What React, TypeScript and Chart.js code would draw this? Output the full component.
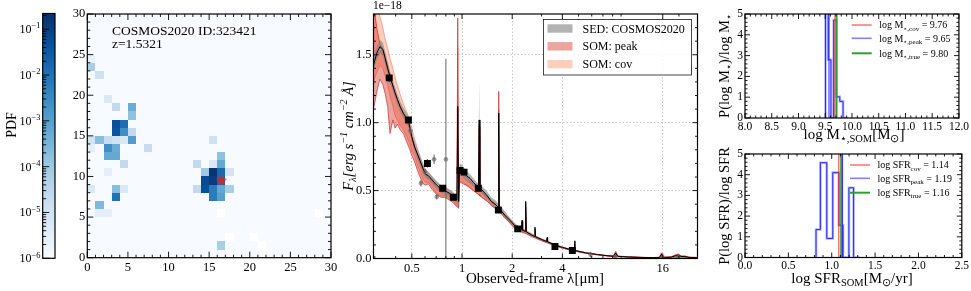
import React, { useEffect, useRef } from "react";
import { Chart, registerables } from "chart.js";

Chart.register(...registerables);

const W = 971;
const H = 291;
const SERIF = '"Liberation Serif", "Times New Roman", Times, serif';

// ---------------- PDF colour bar ----------------
const PDF_MIN = 1e-6;
const PDF_MAX = 0.22;
const PDF_MAJOR = [1e-6, 1e-5, 1e-4, 1e-3, 1e-2, 1e-1];
const PDF_EXP = ["−6", "−5", "−4", "−3", "−2", "−1"];
const PDF_MANTISSA = [2, 3, 4, 5, 6, 7, 8, 9];

// ---------------- SOM map ----------------
const SOM_N = 30;
const SOM_TICKS = [0, 5, 10, 15, 20, 25, 30];
// [column, row, log10 PDF]
const SOM_CELLS = [
  [0, 24, -5.6], [0, 23, -4.2], [1, 22, -4.9], [2, 19, -5.2],
  [3, 18, -4.6], [5, 18, -3.3], [5, 17, -3.8],
  [3, 16, -1.3], [4, 16, -1.9],
  [3, 15, -1.4], [4, 15, -2.6], [5, 15, -4.6],
  [0, 14, -5.0], [1, 14, -3.7], [2, 14, -4.7], [3, 14, -5.0], [4, 14, -5.2], [5, 14, -2.9], [15, 14, -4.9],
  [0, 13, -5.5], [2, 13, -2.6], [3, 13, -3.3], [7, 13, -4.7],
  [2, 12, -3.2], [3, 12, -3.2], [16, 12, -3.8],
  [4, 11, -4.6], [13, 11, -4.6], [15, 11, -5.2], [16, 11, -3.2],
  [2, 10, -5.5], [14, 10, -4.0], [15, 10, -0.75], [16, 10, -1.8], [17, 10, -5.0],
  [14, 9, -1.2], [15, 9, -0.9], [16, 9, -1.8],
  [0, 8, -5.2], [3, 8, -3.7], [4, 8, -5.2], [13, 8, -4.6], [14, 8, -1.3], [15, 8, -2.2], [16, 8, -3.2], [17, 8, -4.2],
  [3, 7, -2.0], [15, 7, -2.2], [16, 7, -3.0],
  [1, 6, -3.6],
  [1, 5, -5.5], [2, 5, -5.5],
  [16, 1, -4.2],
];
const SOM_EMPTY = [[16, 5], [17, 2], [20, 2], [21, 1], [28, 5]];
const SOM_BEST = { x: 16.5, y: 9.5 };
const SOM_ID = "COSMOS2020 ID:323421";
const SOM_Z = "z=1.5321";

// ---------------- SED ----------------
const SED_XMIN = 0.2945;
const SED_XMAX = 25.85;
const SED_YMAX = 1.8;
const SED_X_MAJOR = [0.5, 1, 2, 4, 16];
const SED_X_MINOR = [0.3, 0.4, 0.6, 0.7, 0.8, 0.9, 3, 5, 6, 7, 8, 9, 20];
const SED_Y_MAJOR = [0, 0.5, 1.0, 1.5];
const SED_Y_MINOR = [0.1, 0.2, 0.3, 0.4, 0.6, 0.7, 0.8, 0.9, 1.1, 1.2, 1.3, 1.4, 1.6, 1.7];
const SED_LAM = [
  0.294, 0.300, 0.310, 0.322, 0.335, 0.345, 0.358, 0.370, 0.385, 0.397, 0.410, 0.425, 0.445, 0.465, 0.480,
  0.499, 0.520, 0.540, 0.560, 0.585, 0.605, 0.628, 0.660, 0.705, 0.750, 0.790, 0.840, 0.887, 0.915, 0.932,
  0.943, 0.954, 0.966, 0.985, 1.010, 1.060, 1.117, 1.170, 1.230, 1.255, 1.267, 1.280, 1.350, 1.420, 1.500,
  1.580, 1.645, 1.660, 1.675, 1.800, 1.940, 2.080,
  2.200, 2.270, 2.290, 2.310, 2.390, 2.410, 2.430, 2.600, 2.720, 2.740, 2.760, 3.000, 3.220, 3.240, 3.260,
  3.600, 4.000, 4.400, 4.720, 4.740, 4.760, 5.500, 6.500, 7.500, 8.100, 8.350, 8.600, 10.00, 12.00, 14.00,
  15.30, 15.70, 16.10, 18.00, 19.00, 19.80, 20.60, 21.80, 23.00, 25.90,
];
const SED_BEST = [
  1.42, 1.46, 1.52, 1.56, 1.54, 1.48, 1.40, 1.34, 1.27, 1.22, 1.17, 1.12, 1.07, 1.03, 1.00,
  0.90, 0.82, 0.77, 0.72, 0.66, 0.62, 0.61, 0.58, 0.54, 0.51, 0.50, 0.48, 0.46, 0.44, 0.43,
  1.12, 0.42, 0.66, 0.66, 0.64, 0.61, 0.59, 0.56, 0.53, 0.52, 1.02, 0.52, 0.49, 0.46, 0.42,
  0.40, 0.38, 1.07, 0.37, 0.32, 0.28, 0.24,
  0.220, 0.212, 0.280, 0.208, 0.200, 0.420, 0.196, 0.175, 0.163, 0.230, 0.160, 0.140, 0.125, 0.155, 0.123,
  0.100, 0.082, 0.068, 0.060, 0.130, 0.059, 0.042, 0.029, 0.020, 0.017, 0.040, 0.016, 0.011, 0.008, 0.006,
  0.008, 0.030, 0.008, 0.010, 0.020, 0.025, 0.015, 0.014, 0.008, 0.006,
];
const SED_GRAY_LO = [
  1.37, 1.41, 1.47, 1.51, 1.49, 1.43, 1.35, 1.29, 1.23, 1.18, 1.13, 1.08, 1.03, 0.99, 0.96,
  0.86, 0.78, 0.73, 0.68, 0.62, 0.59, 0.58, 0.55, 0.51, 0.48, 0.47, 0.45, 0.43, 0.41, 0.40,
  0.40, 0.39, 0.62, 0.62, 0.60, 0.57, 0.55, 0.53, 0.50, 0.49, 0.49, 0.49, 0.46, 0.43, 0.40,
  0.38, 0.36, 0.36, 0.35, 0.30, 0.26, 0.22,
  0.205, 0.200, 0.200, 0.197, 0.190, 0.190, 0.186, 0.165, 0.155, 0.155, 0.152, 0.132, 0.118, 0.118, 0.116,
  0.094, 0.077, 0.064, 0.056, 0.056, 0.055, 0.039, 0.027, 0.018, 0.015, 0.015, 0.014, 0.010, 0.007, 0.005,
  0.006, 0.006, 0.006, 0.008, 0.010, 0.012, 0.010, 0.009, 0.006, 0.004,
];
const SED_GRAY_HI = [
  1.48, 1.52, 1.57, 1.61, 1.59, 1.53, 1.45, 1.38, 1.31, 1.26, 1.21, 1.16, 1.11, 1.07, 1.04,
  0.94, 0.86, 0.81, 0.76, 0.69, 0.65, 0.64, 0.61, 0.57, 0.54, 0.53, 0.51, 0.49, 0.47, 0.46,
  1.50, 0.45, 0.70, 0.70, 0.68, 0.65, 0.62, 0.59, 0.56, 0.55, 1.31, 0.55, 0.52, 0.49, 0.45,
  0.43, 0.41, 1.23, 0.40, 0.35, 0.30, 0.26,
  0.235, 0.225, 0.290, 0.222, 0.215, 0.430, 0.210, 0.188, 0.175, 0.235, 0.172, 0.150, 0.134, 0.160, 0.132,
  0.108, 0.089, 0.074, 0.065, 0.135, 0.064, 0.046, 0.032, 0.023, 0.020, 0.045, 0.019, 0.014, 0.010, 0.008,
  0.010, 0.035, 0.010, 0.013, 0.024, 0.030, 0.018, 0.017, 0.010, 0.008,
];
const SOM_PEAK_LO = [
  1.10, 1.15, 1.24, 1.32, 1.28, 1.22, 1.12, 0.92, 1.02, 0.96, 0.99, 0.95, 0.92, 0.86, 0.82,
  0.76, 0.71, 0.65, 0.60, 0.55, 0.54, 0.55, 0.51, 0.47, 0.45, 0.45, 0.43, 0.41, 0.39, 0.38,
  0.38, 0.37, 0.55, 0.56, 0.55, 0.54, 0.52, 0.50, 0.48, 0.47, 0.47, 0.46, 0.44, 0.42, 0.39,
  0.37, 0.36, 0.36, 0.35, 0.30, 0.26, 0.22,
  0.200, 0.195, 0.195, 0.192, 0.185, 0.185, 0.182, 0.162, 0.152, 0.152, 0.150, 0.130, 0.116, 0.116, 0.114,
  0.093, 0.076, 0.063, 0.055, 0.055, 0.054, 0.038, 0.026, 0.018, 0.015, 0.015, 0.014, 0.010, 0.007, 0.005,
  0.006, 0.006, 0.006, 0.008, 0.010, 0.012, 0.010, 0.009, 0.006, 0.004,
];
const SOM_PEAK_HI = [
  1.82, 1.80, 1.68, 1.58, 1.54, 1.49, 1.42, 1.34, 1.27, 1.21, 1.16, 1.12, 1.06, 1.01, 0.98,
  0.89, 0.82, 0.76, 0.71, 0.65, 0.62, 0.60, 0.57, 0.53, 0.50, 0.49, 0.48, 0.46, 0.44, 0.43,
  1.77, 0.42, 0.62, 0.63, 0.62, 0.60, 0.57, 0.55, 0.52, 0.51, 0.97, 0.51, 0.48, 0.45, 0.42,
  0.40, 0.38, 1.23, 0.37, 0.32, 0.28, 0.24,
  0.220, 0.212, 0.270, 0.208, 0.200, 0.380, 0.196, 0.175, 0.163, 0.215, 0.160, 0.140, 0.125, 0.150, 0.123,
  0.100, 0.082, 0.068, 0.060, 0.120, 0.059, 0.042, 0.029, 0.020, 0.018, 0.050, 0.017, 0.012, 0.008, 0.006,
  0.009, 0.040, 0.009, 0.012, 0.025, 0.032, 0.018, 0.018, 0.010, 0.007,
];
const SOM_COV_LO = [
  1.30, 1.33, 1.38, 1.42, 1.40, 1.35, 1.28, 1.20, 1.12, 1.05, 1.02, 0.98, 0.95, 0.90, 0.86,
  0.80, 0.75, 0.69, 0.64, 0.58, 0.56, 0.56, 0.53, 0.48, 0.46, 0.46, 0.44, 0.42, 0.40, 0.39,
  0.39, 0.38, 0.56, 0.57, 0.56, 0.54, 0.52, 0.50, 0.48, 0.47, 0.47, 0.47, 0.44, 0.42, 0.39,
  0.37, 0.36, 0.36, 0.35, 0.30, 0.26, 0.22,
  0.205, 0.198, 0.198, 0.195, 0.188, 0.188, 0.185, 0.165, 0.154, 0.154, 0.152, 0.132, 0.118, 0.118, 0.116,
  0.094, 0.077, 0.064, 0.056, 0.056, 0.055, 0.039, 0.027, 0.018, 0.015, 0.015, 0.014, 0.010, 0.007, 0.005,
  0.006, 0.006, 0.006, 0.008, 0.010, 0.012, 0.010, 0.009, 0.006, 0.004,
];
const SOM_COV_HI = [
  1.85, 1.85, 1.85, 1.78, 1.70, 1.62, 1.55, 1.47, 1.40, 1.33, 1.27, 1.21, 1.14, 1.08, 1.04,
  0.96, 0.88, 0.81, 0.75, 0.69, 0.65, 0.63, 0.60, 0.56, 0.53, 0.52, 0.50, 0.47, 0.45, 0.44,
  1.55, 0.43, 0.64, 0.65, 0.63, 0.61, 0.59, 0.56, 0.54, 0.53, 0.90, 0.52, 0.49, 0.46, 0.43,
  0.41, 0.39, 1.10, 0.38, 0.33, 0.29, 0.25,
  0.225, 0.215, 0.250, 0.212, 0.205, 0.330, 0.200, 0.178, 0.166, 0.200, 0.163, 0.143, 0.128, 0.140, 0.126,
  0.102, 0.084, 0.070, 0.062, 0.100, 0.061, 0.044, 0.031, 0.022, 0.020, 0.055, 0.019, 0.013, 0.009, 0.007,
  0.010, 0.042, 0.010, 0.013, 0.027, 0.034, 0.020, 0.019, 0.011, 0.008,
];
// COSMOS2020 photometry (black squares) and other bands (grey)
const PHOT_LAM = [0.366, 0.477, 0.620, 0.766, 0.887, 0.973, 1.028, 1.253, 1.652, 2.157, 3.61, 4.59];
const PHOT_F = [1.33, 1.02, 0.70, 0.517, 0.451, 0.648, 0.636, 0.517, 0.356, 0.218, 0.089, 0.059];
const PHOT_ERR = [0.03, 0.02, 0.03, 0.012, 0.01, 0.012, 0.012, 0.01, 0.01, 0.006, 0.004, 0.004];
const XPHOT_LAM = [0.490, 0.567, 0.600, 0.680, 0.705, 0.800, 5.9, 8.3, 16.0, 19.8];
const XPHOT_F = [0.94, 0.555, 0.64, 0.73, 0.455, 0.73, 0.03, 0.012, 0.008, 0.015];
const XPHOT_ERR = [0.03, 0.025, 0.02, 0.035, 0.02, 0.74, 0.02, 0.015, 0.008, 0.012];

// ---------------- stellar mass / SFR PDFs ----------------
const MASS_XMIN = 8.0, MASS_XMAX = 12.0;
const MASS_X_MAJOR = [8.0, 8.5, 9.0, 9.5, 10.0, 10.5, 11.0, 11.5, 12.0];
const PDF_Y_MAJOR = [0, 1, 2, 3, 4, 5];
const MASS_EDGES = [9.505, 9.556, 9.607, 9.658, 9.709, 9.772, 9.833, 9.914];
const MASS_DENS = [3.08, 5.5, 2.8, 0, 4.71, 1.02, 0.8];
// positions of the vertical markers as drawn, and the values quoted in the legend
const MASS_LINE_COV = 9.683, MASS_LINE_PEAK = 9.57, MASS_LINE_TRUE = 9.713;
const MASS_COV = "9.76", MASS_PEAK = "9.65", MASS_TRUE = "9.80";

const SFR_XMIN = 0.0, SFR_XMAX = 2.5;
const SFR_X_MAJOR = [0.0, 0.5, 1.0, 1.5, 2.0, 2.5];
const SFR_EDGES = [0.819, 0.869, 0.943, 1.012, 1.082, 1.130, 1.198, 1.252, 1.321];
const SFR_DENS = [0.06, 1.35, 4.58, 0.92, 4.1, 1.56, 0, 3.37];
const SFR_LINE_COV = 1.082, SFR_LINE_PEAK = 1.125, SFR_LINE_TRUE = 1.108;
const SFR_COV = "1.14", SFR_PEAK = "1.19", SFR_TRUE = "1.16";

// ---------------- helpers ----------------
const BLUES = ["#f7fbff", "#deebf7", "#c6dbef", "#9ecae1", "#6baed6", "#4292c6", "#2171b5", "#08519c", "#08306b"];
function hexRgb(h: string) {
  return [parseInt(h.slice(1, 3), 16), parseInt(h.slice(3, 5), 16), parseInt(h.slice(5, 7), 16)];
}
function blues(t: number) {
  const tt = Math.max(0, Math.min(1, t));
  const p = tt * (BLUES.length - 1);
  const i = Math.min(BLUES.length - 2, Math.floor(p));
  const f = p - i;
  const a = hexRgb(BLUES[i]);
  const b = hexRgb(BLUES[i + 1]);
  return `rgb(${Math.round(a[0] + (b[0] - a[0]) * f)},${Math.round(a[1] + (b[1] - a[1]) * f)},${Math.round(a[2] + (b[2] - a[2]) * f)})`;
}
const LOG_LO = Math.log10(PDF_MIN);
const LOG_HI = Math.log10(PDF_MAX);
const normLog = (lv: number) => (lv - LOG_LO) / (LOG_HI - LOG_LO);

function range(a: number, b: number, step: number, skip: number[]) {
  const out: number[] = [];
  const n = Math.round((b - a) / step);
  for (let k = 0; k <= n; k++) {
    const v = +(a + k * step).toFixed(6);
    if (!skip.some((s) => Math.abs(s - v) < 1e-9)) out.push(v);
  }
  return out;
}

type Seg = { t: string; sub?: boolean; sup?: boolean };
type TextItem = {
  x: number; y: number; segs: Seg[]; size: number;
  align?: "left" | "center" | "right"; rot?: number; italic?: boolean; color?: string;
};
function fontStr(size: number, italic?: boolean) {
  return `${italic ? "italic " : ""}${size}px ${SERIF}`;
}
function drawRich(ctx: CanvasRenderingContext2D, it: TextItem) {
  const small = it.size * 0.7;
  ctx.save();
  ctx.translate(it.x, it.y);
  if (it.rot) ctx.rotate(it.rot);
  ctx.fillStyle = it.color || "#000";
  ctx.textBaseline = "alphabetic";
  ctx.textAlign = "left";
  const widths = it.segs.map((s) => {
    ctx.font = fontStr(s.sub || s.sup ? small : it.size, it.italic);
    return ctx.measureText(s.t).width;
  });
  const total = widths.reduce((a, b) => a + b, 0);
  let x = it.align === "center" ? -total / 2 : it.align === "right" ? -total : 0;
  it.segs.forEach((s, k) => {
    ctx.font = fontStr(s.sub || s.sup ? small : it.size, it.italic);
    const dy = s.sub ? it.size * 0.22 : s.sup ? -it.size * 0.4 : 0;
    ctx.fillText(s.t, x, dy);
    x += widths[k];
  });
  ctx.restore();
}
function textPlugin(items: TextItem[], extra?: (ctx: CanvasRenderingContext2D, chart: any) => void) {
  return {
    id: "texts",
    afterDraw(chart: any) {
      const ctx = chart.ctx;
      if (extra) extra(ctx, chart);
      items.forEach((it) => drawRich(ctx, it));
    },
  };
}

type TickCfg = {
  xMajor?: number[]; xMinor?: number[]; yMajor?: number[]; yMinor?: number[];
  major: number; minor: number; top?: boolean; right?: boolean; frame?: number;
};
function frameTicks(cfg: TickCfg) {
  return {
    id: "frameTicks",
    afterDatasetsDraw(chart: any) {
      const { ctx, chartArea: a } = chart;
      const xs = chart.scales.x;
      const ys = chart.scales.y;
      ctx.save();
      ctx.strokeStyle = "#000";
      ctx.lineWidth = 0.9;
      const seg = (x0: number, y0: number, x1: number, y1: number) => {
        ctx.beginPath();
        ctx.moveTo(x0, y0);
        ctx.lineTo(x1, y1);
        ctx.stroke();
      };
      const doX = (vals: number[] | undefined, len: number) =>
        (vals || []).forEach((v) => {
          const px = xs.getPixelForValue(v);
          if (px < a.left - 0.5 || px > a.right + 0.5) return;
          seg(px, a.bottom, px, a.bottom - len);
          if (cfg.top !== false) seg(px, a.top, px, a.top + len);
        });
      const doY = (vals: number[] | undefined, len: number) =>
        (vals || []).forEach((v) => {
          const py = ys.getPixelForValue(v);
          if (py < a.top - 0.5 || py > a.bottom + 0.5) return;
          seg(a.left, py, a.left + len, py);
          if (cfg.right !== false) seg(a.right, py, a.right - len, py);
        });
      doX(cfg.xMajor, cfg.major);
      doX(cfg.xMinor, cfg.minor);
      doY(cfg.yMajor, cfg.major);
      doY(cfg.yMinor, cfg.minor);
      ctx.lineWidth = cfg.frame ?? 1.2;
      ctx.strokeRect(a.left, a.top, a.right - a.left, a.bottom - a.top);
      ctx.restore();
    },
  };
}

function common(pad: any) {
  return {
    animation: false,
    responsive: false,
    maintainAspectRatio: false,
    devicePixelRatio: 1,
    events: [],
    layout: { padding: pad },
    plugins: { legend: { display: false }, tooltip: { enabled: false }, title: { display: false } },
  };
}
function axis(type: string, min: number, max: number, majors: number[], fmt: (v: number) => string,
  isX: boolean, fixed: number, fontSize: number, pad: number, grid?: boolean) {
  return {
    type, min, max,
    afterBuildTicks: (s: any) => { s.ticks = majors.map((v) => ({ value: v })); },
    afterFit: (s: any) => { if (isX) s.height = fixed; else s.width = fixed; },
    ticks: {
      font: { family: SERIF, size: fontSize }, color: "#000", padding: pad,
      autoSkip: false, maxRotation: 0, minRotation: 0,
      callback: (v: any) => fmt(Number(v)),
    },
    grid: grid
      ? { display: true, drawTicks: false, color: "#b8b8b8", lineWidth: 0.8 }
      : { display: false, drawTicks: false },
    border: { display: false, dash: [1.5, 2] },
  };
}
const zip = (xs: number[], ys: number[]) => xs.map((x, i) => ({ x, y: ys[i] }));
function stepPoints(edges: number[], h: number[]) {
  const pts = [{ x: edges[0], y: 0 }];
  h.forEach((v, i) => pts.push({ x: edges[i], y: v }));
  pts.push({ x: edges[edges.length - 1], y: 0 });
  return pts;
}
function makeStar(r: number, color: string) {
  const c = document.createElement("canvas");
  const s = Math.ceil(r * 2 + 2);
  c.width = s;
  c.height = s;
  const g = c.getContext("2d")!;
  g.beginPath();
  for (let k = 0; k < 10; k++) {
    const ang = -Math.PI / 2 + (k * Math.PI) / 5;
    const rr = k % 2 === 0 ? r : r * 0.42;
    g.lineTo(s / 2 + rr * Math.cos(ang), s / 2 + rr * Math.sin(ang));
  }
  g.closePath();
  g.fillStyle = color;
  g.fill();
  return c;
}

// ---------------- chart configs ----------------
function colorbarConfig() {
  const minor: number[] = [];
  PDF_MAJOR.forEach((d) => PDF_MANTISSA.forEach((m) => { if (d * m <= PDF_MAX) minor.push(d * m); }));
  return {
    type: "scatter",
    data: { datasets: [] },
    options: {
      ...common({ left: 0, top: 13.5, right: W - 55, bottom: H - 258.3 }),
      scales: {
        x: { type: "linear", display: false, min: 0, max: 1 },
        y: {
          type: "logarithmic", min: PDF_MIN, max: PDF_MAX,
          afterFit: (s: any) => { s.width = 42.7; },
          ticks: { display: false }, grid: { display: false, drawTicks: false }, border: { display: false },
        },
      },
    },
    plugins: [
      {
        id: "cbar",
        beforeDatasetsDraw(chart: any) {
          const { ctx, chartArea: a } = chart;
          const ys = chart.scales.y;
          for (let py = Math.floor(a.top); py < Math.ceil(a.bottom); py++) {
            const v = ys.getValueForPixel(py + 0.5);
            ctx.fillStyle = blues(normLog(Math.log10(v)));
            ctx.fillRect(a.left, py, a.right - a.left, 1);
          }
        },
      },
      frameTicks({ yMajor: PDF_MAJOR, yMinor: minor, major: 6.5, minor: 3.5, right: false, top: false, frame: 1.2 }),
      textPlugin([], (ctx, chart) => {
        const ys = chart.scales.y;
        PDF_MAJOR.forEach((v, i) => {
          drawRich(ctx, {
            x: 40.5, y: ys.getPixelForValue(v) + 4, size: 12, align: "right",
            segs: [{ t: "10" }, { t: PDF_EXP[i], sup: true }],
          });
        });
        drawRich(ctx, { x: 15.5, y: 125, size: 14, align: "center", rot: -Math.PI / 2, segs: [{ t: "PDF" }] });
      }),
    ],
  };
}

function somConfig() {
  const star = makeStar(6, "#d62728");
  return {
    type: "scatter",
    data: {
      datasets: [{ data: [SOM_BEST], pointStyle: star, pointRadius: 6, borderWidth: 0 }],
    },
    options: {
      ...common({ left: 57.3, top: 14, right: W - 331, bottom: H - 257.7 - 20 }),
      scales: {
        x: axis("linear", 0, SOM_N, SOM_TICKS, (v) => String(v), true, 20, 12.5, 3),
        y: axis("linear", 0, SOM_N, SOM_TICKS, (v) => String(v), false, 30, 12.5, 2),
      },
    },
    plugins: [
      {
        id: "somCells",
        beforeDatasetsDraw(chart: any) {
          const { ctx, chartArea: a } = chart;
          const xs = chart.scales.x;
          const ys = chart.scales.y;
          ctx.save();
          ctx.fillStyle = blues(0);
          ctx.fillRect(a.left, a.top, a.right - a.left, a.bottom - a.top);
          const cell = (i: number, j: number, color: string) => {
            const x0 = Math.round(xs.getPixelForValue(i));
            const x1 = Math.round(xs.getPixelForValue(i + 1));
            const y0 = Math.round(ys.getPixelForValue(j + 1));
            const y1 = Math.round(ys.getPixelForValue(j));
            ctx.fillStyle = color;
            ctx.fillRect(x0, y0, x1 - x0, y1 - y0);
          };
          SOM_CELLS.forEach(([i, j, v]) => cell(i, j, blues(normLog(v))));
          SOM_EMPTY.forEach(([i, j]) => cell(i, j, "#ffffff"));
          ctx.restore();
        },
      },
      frameTicks({
        xMajor: SOM_TICKS, xMinor: range(0, 30, 1, SOM_TICKS),
        yMajor: SOM_TICKS, yMinor: range(0, 30, 1, SOM_TICKS), major: 6, minor: 3,
      }),
      textPlugin([
        { x: 112, y: 35, size: 13.5, segs: [{ t: SOM_ID }] },
        { x: 112, y: 47.5, size: 13.5, segs: [{ t: SOM_Z }] },
      ]),
    ],
  };
}

function sedConfig() {
  const band = (ys: number[], fillColor: string | false, line: string, lw: number) => ({
    data: zip(SED_LAM, ys), borderColor: line, borderWidth: lw, pointRadius: 0, tension: 0,
    backgroundColor: fillColor || "transparent", fill: fillColor ? "+1" : false,
  });
  const COV_FILL = "rgba(255,160,122,0.5)";
  const PEAK_FILL = "rgba(215,50,40,0.45)";
  const GRAY_FILL = "rgba(128,128,128,0.6)";
  const datasets: any[] = [
    { ...band(SOM_COV_HI, COV_FILL, "rgba(250,128,114,0.85)", 0.8), order: 9 },
    { ...band(SOM_COV_LO, false, "rgba(250,128,114,0.85)", 0.8), order: 8 },
    { ...band(SOM_PEAK_HI, PEAK_FILL, "rgba(205,40,35,0.85)", 0.8), order: 7 },
    { ...band(SOM_PEAK_LO, false, "rgba(205,40,35,0.85)", 0.8), order: 6 },
    { ...band(SED_GRAY_HI, GRAY_FILL, "rgba(128,128,128,0.0)", 0), order: 5 },
    { ...band(SED_GRAY_LO, false, "rgba(128,128,128,0.0)", 0), order: 4 },
    { ...band(SED_BEST, false, "#000000", 1.0), order: 3 },
    {
      data: zip(XPHOT_LAM, XPHOT_F), showLine: false, pointStyle: "circle", pointRadius: 2.3,
      backgroundColor: "rgba(90,90,90,0.6)", borderWidth: 0, order: 2,
      errY: XPHOT_ERR, errColor: "rgba(100,100,100,0.75)", errWidth: 1.3,
    },
    {
      data: zip(PHOT_LAM, PHOT_F), showLine: false, pointStyle: "rect", pointRadius: 4.9,
      backgroundColor: "#000", borderWidth: 0, order: 1,
      errY: PHOT_ERR, errColor: "#000", errWidth: 1,
    },
  ];
  const legendRows = [
    { c: GRAY_FILL, t: "SED: COSMOS2020" },
    { c: PEAK_FILL, t: "SOM: peak" },
    { c: COV_FILL, t: "SOM: cov" },
  ];
  return {
    type: "line",
    data: { datasets },
    options: {
      ...common({ left: 343.5, top: 14, right: W - 697.5, bottom: H - 258.5 - 20 }),
      scales: {
        x: axis("logarithmic", SED_XMIN, SED_XMAX, SED_X_MAJOR, (v) => String(v), true, 20, 12.5, 3, true),
        y: axis("linear", 0, SED_YMAX, SED_Y_MAJOR, (v) => v.toFixed(1), false, 30, 12.5, 2, true),
      },
    },
    plugins: [
      {
        id: "errorBars",
        beforeDatasetDraw(chart: any, args: any) {
          const ds = chart.data.datasets[args.index];
          if (!ds.errY) return;
          const { ctx, chartArea: a } = chart;
          const xs = chart.scales.x;
          const ys = chart.scales.y;
          ctx.save();
          ctx.beginPath();
          ctx.rect(a.left, a.top, a.right - a.left, a.bottom - a.top);
          ctx.clip();
          ctx.strokeStyle = ds.errColor;
          ctx.lineWidth = ds.errWidth;
          ds.data.forEach((p: any, i: number) => {
            const px = xs.getPixelForValue(p.x);
            ctx.beginPath();
            ctx.moveTo(px, ys.getPixelForValue(p.y - ds.errY[i]));
            ctx.lineTo(px, ys.getPixelForValue(p.y + ds.errY[i]));
            ctx.stroke();
          });
          ctx.restore();
        },
      },
      frameTicks({
        xMajor: SED_X_MAJOR, xMinor: SED_X_MINOR, yMajor: SED_Y_MAJOR, yMinor: SED_Y_MINOR, major: 5, minor: 2.5,
      }),
      textPlugin(
        [
          { x: 373, y: 9, size: 11.5, segs: [{ t: "1e−18" }] },
          { x: 535, y: 282.5, size: 15, align: "center", segs: [{ t: "Observed-frame λ[μm]" }] },
          {
            x: 353, y: 136, size: 14.5, align: "center", rot: -Math.PI / 2, italic: true,
            segs: [
              { t: "F" }, { t: "λ", sub: true }, { t: "[erg s" }, { t: "−1", sup: true },
              { t: " cm" }, { t: "−2", sup: true }, { t: " Å]" },
            ],
          },
        ],
        (ctx) => {
          ctx.save();
          ctx.fillStyle = "rgba(255,255,255,0.85)";
          ctx.fillRect(543.5, 19.5, 148, 55.5);
          ctx.strokeStyle = "#333";
          ctx.lineWidth = 0.9;
          ctx.strokeRect(543.5, 19.5, 148, 55.5);
          legendRows.forEach((r, k) => {
            const cy = 28.5 + k * 17.8;
            ctx.fillStyle = r.c;
            ctx.fillRect(547.5, cy - 4.2, 25, 8.4);
            drawRich(ctx, { x: 582.5, y: cy + 4, size: 12, segs: [{ t: r.t }] });
          });
          ctx.restore();
        },
      ),
    ],
  };
}

function pdfPanelConfig(opts: {
  top: number; bottom: number; xmin: number; xmax: number; xMajor: number[]; xMinor: number[];
  edges: number[]; dens: number[]; cov: number; peak: number; truth: number;
  texts: TextItem[]; legend: { segs: Seg[]; color: string; lw: number }[]; legendY: number[]; legendX: number;
}) {
  const vline = (v: number, color: string, lw: number, order: number) => ({
    data: [{ x: v, y: 0 }, { x: v, y: 5 }], borderColor: color, borderWidth: lw, pointRadius: 0, order,
  });
  return {
    type: "line",
    data: {
      datasets: [
        vline(opts.truth, "#2ca02c", 1.8, 1),
        vline(opts.cov, "#ff2a2a", 1.0, 2),
        vline(opts.peak, "#2a2aff", 1.0, 3),
        {
          data: stepPoints(opts.edges, opts.dens), stepped: "after", borderColor: "#2a2aff",
          borderWidth: 1, pointRadius: 0, order: 4,
        },
        {
          data: stepPoints(opts.edges, opts.dens), stepped: "after", borderColor: "rgba(110,110,255,0.5)",
          borderWidth: 2.6, pointRadius: 0, order: 5,
        },
      ],
    },
    options: {
      ...common({ left: 726, top: opts.top, right: 9, bottom: H - opts.bottom - 16 }),
      scales: {
        x: axis("linear", opts.xmin, opts.xmax, opts.xMajor, (v) => v.toFixed(1), true, 16, 11.5, 2),
        y: axis("linear", 0, 5, PDF_Y_MAJOR, (v) => String(v), false, 19, 11.5, 2),
      },
    },
    plugins: [
      frameTicks({
        xMajor: opts.xMajor, xMinor: opts.xMinor, yMajor: PDF_Y_MAJOR,
        yMinor: range(0, 5, 0.2, PDF_Y_MAJOR), major: 5, minor: 2.5,
      }),
      textPlugin(opts.texts, (ctx) => {
        opts.legend.forEach((r, k) => {
          const y = opts.legendY[k];
          ctx.save();
          ctx.strokeStyle = r.color;
          ctx.lineWidth = r.lw;
          ctx.beginPath();
          ctx.moveTo(opts.legendX, y);
          ctx.lineTo(opts.legendX + 20, y);
          ctx.stroke();
          ctx.restore();
          drawRich(ctx, { x: opts.legendX + 27.5, y: y + 3.4, size: 10, segs: r.segs });
        });
      }),
    ],
  };
}

function massConfig() {
  return pdfPanelConfig({
    top: 14, bottom: 118, xmin: MASS_XMIN, xmax: MASS_XMAX, xMajor: MASS_X_MAJOR,
    xMinor: range(MASS_XMIN, MASS_XMAX, 0.1, MASS_X_MAJOR),
    edges: MASS_EDGES, dens: MASS_DENS, cov: MASS_LINE_COV, peak: MASS_LINE_PEAK, truth: MASS_LINE_TRUE,
    legendX: 851.7, legendY: [25, 38.3, 53.3],
    legend: [
      { color: "#ff2a2a", lw: 1, segs: [{ t: "log M" }, { t: "⋆,cov", sub: true }, { t: " = " + MASS_COV }] },
      { color: "rgba(90,90,255,0.75)", lw: 1.6, segs: [{ t: "log M" }, { t: "⋆,peak", sub: true }, { t: " = " + MASS_PEAK }] },
      { color: "#2ca02c", lw: 2, segs: [{ t: "log M" }, { t: "⋆,true", sub: true }, { t: " = " + MASS_TRUE }] },
    ],
    texts: [
      { x: 854, y: 139, size: 15, align: "center", segs: [{ t: "log M" }, { t: "⋆,SOM", sub: true }, { t: "[M" }, { t: "⊙", sub: true }, { t: "]" }] },
      { x: 728.5, y: 66, size: 14.5, align: "center", rot: -Math.PI / 2, segs: [{ t: "P(log M" }, { t: "⋆", sub: true }, { t: ")/log M" }, { t: "⋆", sub: true }] },
    ],
  });
}
function sfrConfig() {
  return pdfPanelConfig({
    top: 154, bottom: 257.5, xmin: SFR_XMIN, xmax: SFR_XMAX, xMajor: SFR_X_MAJOR,
    xMinor: range(SFR_XMIN, SFR_XMAX, 0.1, SFR_X_MAJOR),
    edges: SFR_EDGES, dens: SFR_DENS, cov: SFR_LINE_COV, peak: SFR_LINE_PEAK, truth: SFR_LINE_TRUE,
    legendX: 850, legendY: [165, 178.3, 192.7],
    legend: [
      { color: "#ff2a2a", lw: 1, segs: [{ t: "log SFR" }, { t: "cov", sub: true }, { t: " = " + SFR_COV }] },
      { color: "rgba(90,90,255,0.75)", lw: 1.6, segs: [{ t: "log SFR" }, { t: "peak", sub: true }, { t: " = " + SFR_PEAK }] },
      { color: "#2ca02c", lw: 2, segs: [{ t: "log SFR" }, { t: "true", sub: true }, { t: " = " + SFR_TRUE }] },
    ],
    texts: [
      { x: 852, y: 282.5, size: 15, align: "center", segs: [{ t: "log SFR" }, { t: "SOM", sub: true }, { t: "[M" }, { t: "⊙", sub: true }, { t: "/yr]" }] },
      { x: 728.5, y: 206, size: 14.5, align: "center", rot: -Math.PI / 2, segs: [{ t: "P(log SFR)/log SFR" }] },
    ],
  });
}

export default function App() {
  const r1 = useRef<HTMLCanvasElement>(null);
  const r2 = useRef<HTMLCanvasElement>(null);
  const r3 = useRef<HTMLCanvasElement>(null);
  const r4 = useRef<HTMLCanvasElement>(null);
  const r5 = useRef<HTMLCanvasElement>(null);
  useEffect(() => {
    const charts = [
      new Chart(r1.current as any, colorbarConfig() as any),
      new Chart(r2.current as any, somConfig() as any),
      new Chart(r3.current as any, sedConfig() as any),
      new Chart(r4.current as any, massConfig() as any),
      new Chart(r5.current as any, sfrConfig() as any),
    ];
    return () => charts.forEach((c) => c.destroy());
  }, []);
  const cs: React.CSSProperties = { position: "absolute", left: 0, top: 0, width: W, height: H };
  return (
    <div style={{ position: "fixed", left: 0, top: 0, width: W, height: H, background: "#fff", overflow: "hidden" }}>
      <canvas ref={r1} width={W} height={H} style={cs} />
      <canvas ref={r2} width={W} height={H} style={cs} />
      <canvas ref={r3} width={W} height={H} style={cs} />
      <canvas ref={r4} width={W} height={H} style={cs} />
      <canvas ref={r5} width={W} height={H} style={cs} />
    </div>
  );
}
